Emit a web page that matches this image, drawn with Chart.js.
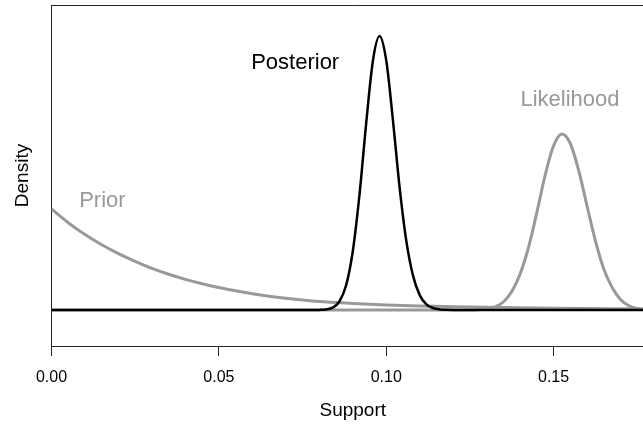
<!DOCTYPE html>
<html>
<head>
<meta charset="utf-8">
<script src="https://cdn.jsdelivr.net/npm/chart.js@4"></script>
<style>
    html, body { margin: 0; padding: 0; background: #fff; overflow: hidden; }
    #wrap { width: 661px; height: 431px; }
</style>
</head>
<body>
<div id="wrap"><canvas id="chart" width="661" height="431"></canvas></div>
<script>
// ------------ DATA (height above baseline, no units) ------------------

const xTicks = [0, 0.05, 0.10, 0.15];

const priorX = [0, 0.005, 0.01, 0.015, 0.02, 0.025, 0.03, 0.035, 0.04, 0.045, 0.05, 0.055, 0.06, 0.065,
    0.07, 0.075, 0.08, 0.09, 0.10, 0.11, 0.12, 0.13, 0.14, 0.15, 0.16, 0.17, 0.18];
const priorY = [101, 87.3, 75.4, 65.2, 56.3, 48.6, 41.6, 35.7, 30.6, 26.2, 22.5, 19.2, 16.3, 13.8,
    11.7, 9.9, 8.4, 6.6, 5.1, 4.0, 3.3, 2.7, 2.2, 1.8, 1.5, 1.25, 1.0];

const likeX = [0, 0.125, 0.1275, 0.13, 0.1325, 0.135, 0.1375, 0.14, 0.1425, 0.145, 0.1475, 0.15, 0.1525,
    0.155, 0.1575, 0.16, 0.1625, 0.165, 0.1675, 0.17, 0.1725, 0.175, 0.1775, 0.18];
const likeY = [0, 0, 0.3, 1.0, 3.0, 8.0, 18.5, 36, 62.5, 97.5, 135, 164.2, 176,
    166.5, 139.5, 104, 69, 41, 22.5, 10.5, 4.2, 1.5, 0.4, 0.1];

const postX = [0, 0.078, 0.080, 0.082, 0.084, 0.086, 0.088, 0.090, 0.092, 0.094, 0.096, 0.098,
    0.100, 0.102, 0.104, 0.106, 0.108, 0.110, 0.112, 0.114, 0.116, 0.118, 0.120, 0.180];
const postY = [0, 0, 0.1, 0.6, 2.4, 8.5, 24.5, 58.5, 114.9, 186.2, 248.8, 274,
    249.7, 189.9, 122.6, 69.1, 34.4, 14.9, 5.7, 2.0, 0.6, 0.15, 0, 0];

const labelText = ["Posterior", "Likelihood", "Prior"];
const labelX = [0.0728, 0.1549, 0.0152];
const labelY = [247.5, 210.5, 109.5];
const labelColor = ["#000000", "#999999", "#999999"];

const GRAY = "#999999";
const FONT = "'Liberation Sans', Arial, Helvetica, sans-serif";

function toPoints(xs, ys) {
    return xs.map((x, i) => ({ x: x, y: ys[i] }));
}


// ------------ PLUGINS ------------------

const boxPlugin = {
    id: "box",
    afterDraw(chart) {
        const { ctx, chartArea } = chart;
        ctx.save();
        ctx.strokeStyle = "#222";
        ctx.lineWidth = 1;
        ctx.beginPath();
        ctx.moveTo(Math.round(chartArea.left) - 0.5, Math.round(chartArea.top) + 0.5);
        ctx.lineTo(chartArea.right + 2, Math.round(chartArea.top) + 0.5);
        ctx.stroke();
        ctx.restore();
    },
};

const labelPlugin = {
    id: "curveLabels",
    afterDatasetsDraw(chart) {
        const { ctx, scales } = chart;
        ctx.save();
        ctx.font = "22px " + FONT;
        ctx.textAlign = "center";
        ctx.textBaseline = "middle";
        labelText.forEach((t, i) => {
            ctx.fillStyle = labelColor[i];
            ctx.fillText(t, scales.x.getPixelForValue(labelX[i]), scales.y.getPixelForValue(labelY[i]));
        });
        ctx.restore();
    },
};


// ------------ CREATE CHART ------------------

new Chart(document.getElementById("chart"), {
    type: "line",
    data: {
        datasets: [
            {
                label: "Posterior",
                data: toPoints(postX, postY),
                borderColor: "#000000",
                borderWidth: 2.5,
            },
            {
                label: "Likelihood",
                data: toPoints(likeX, likeY),
                borderColor: GRAY,
                borderWidth: 3,
            },
            {
                label: "Prior",
                data: toPoints(priorX, priorY),
                borderColor: GRAY,
                borderWidth: 3,
            },
        ],
    },
    options: {
        responsive: false,
        animation: false,
        events: [],
        layout: { padding: { top: 5, right: 7, bottom: 0, left: 0 } },
        elements: {
            point: { radius: 0 },
            line: { cubicInterpolationMode: "monotone", fill: false },
        },
        plugins: {
            legend: { display: false },
            tooltip: { enabled: false },
        },
        scales: {
            x: {
                type: "linear",
                min: 0,
                max: 0.18,
                afterBuildTicks: (scale) => {
                    scale.ticks = xTicks.map((v) => ({ value: v }));
                },
                afterFit: (scale) => {
                    scale.height = 85;
                },
                ticks: {
                    includeBounds: false,
                    autoSkip: false,
                    maxRotation: 0,
                    padding: 12,
                    color: "#000",
                    font: { family: FONT, size: 16 },
                    callback: (v) => Number(v).toFixed(2),
                },
                grid: {
                    display: true,
                    drawOnChartArea: false,
                    drawTicks: true,
                    tickLength: 10,
                    color: "#222",
                },
                border: { display: true, color: "#222", width: 1 },
                title: {
                    display: true,
                    text: "Support",
                    color: "#000",
                    font: { family: FONT, size: 19 },
                    padding: { top: 12, bottom: 8.6 },
                },
            },
            y: {
                min: -36,
                max: 305,
                afterFit: (scale) => {
                    scale.width = 51.5;
                },
                ticks: { display: false },
                grid: { display: false },
                border: { display: true, color: "#222", width: 1 },
                title: {
                    display: true,
                    text: "Density",
                    color: "#000",
                    font: { family: FONT, size: 19 },
                    padding: { top: 11.3, bottom: 0 },
                },
            },
        },
    },
    plugins: [boxPlugin, labelPlugin],
});
</script>
</body>
</html>
